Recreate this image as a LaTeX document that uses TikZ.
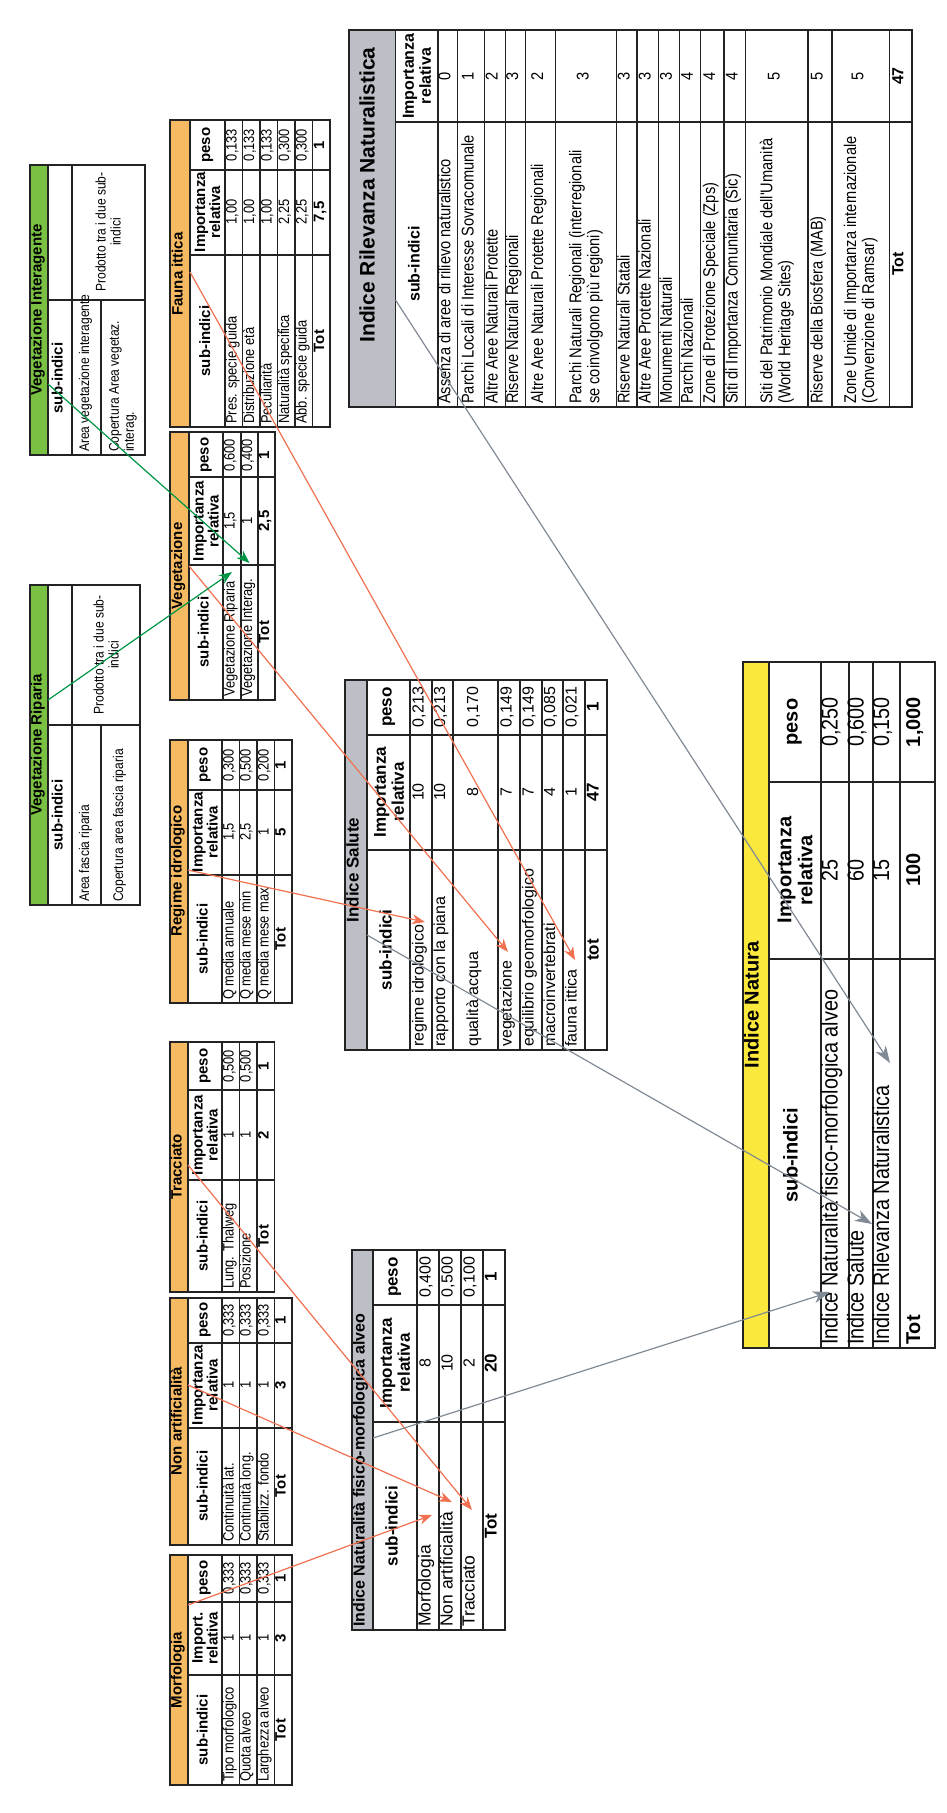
\documentclass[tikz,border=0pt]{standalone}
\usepackage{fontspec}
\setmainfont{Liberation Sans}
\newfontfamily\narrowfont[FakeStretch=0.86]{Liberation Sans}
\usetikzlibrary{arrows.meta}

\definecolor{hdrorange}{RGB}{246,186,98}
\definecolor{hdrgray}{RGB}{188,192,198}
\definecolor{hdryellow}{RGB}{250,232,60}
\definecolor{hdrgreen}{RGB}{122,193,67}
\definecolor{ink}{RGB}{35,35,35}
\definecolor{linkred}{RGB}{240,112,80}
\definecolor{linkgray}{RGB}{128,138,148}
\definecolor{linkgreen}{RGB}{0,150,70}

\newcounter{cellno}
\tikzset{
  inner/.style={ink, line width=1.1pt},
  outer/.style={ink, line width=1.8pt},
  lbl/.style={rotate=90, inner sep=0pt, anchor=mid, text=black},
  L/.style={anchor=mid west},
  f13/.style={font=\narrowfont\fontsize{15}{15}\selectfont},
  g13/.style={font=\narrowfont\fontsize{14}{15}\selectfont},
  b15/.style={font=\fontsize{15}{15}\selectfont\bfseries},
  f15/.style={font=\narrowfont\fontsize{17}{18}\selectfont},
  b16/.style={font=\fontsize{16}{17}\selectfont\bfseries},
  f16/.style={font=\fontsize{16}{18}\selectfont},
  b17/.style={font=\fontsize{17}{18}\selectfont\bfseries},
  f18/.style={font=\fontsize{17.5}{19}\selectfont},
  f20/.style={font=\narrowfont\fontsize{23}{24}\selectfont},
  b20/.style={font=\fontsize{20}{21}\selectfont\bfseries},
  b21/.style={font=\fontsize{21}{22}\selectfont\bfseries},
  redlink/.style={linkred, line width=1.2pt, -{Stealth[length=13pt,width=10pt,inset=4pt]}},
  graylink/.style={linkgray, line width=1.2pt, -{Stealth[length=17pt,width=12pt,inset=5pt]}},
  greenlink/.style={linkgreen, line width=1.2pt, -{Stealth[length=13pt,width=10pt,inset=4pt]}},
}

% header band, grid lines and frame of one table (portrait coordinates)
% #1 header left, #2 header right, #3 table right, #4 top, #5 bottom,
% #6 row lines, #7 column lines, #8 header colour
\newcommand\tablegrid[8]{%
  \fill[#8] (#1,#4) rectangle (#2,#5);
  \foreach \r in {#6}{\draw[inner] (\r,#4) -- (\r,#5);}
  \foreach \c in {#7}{\draw[inner] (#2,\c) -- (#3,\c);}
  \draw[outer] (#2,#4) -- (#2,#5);
  \draw[outer] (#1,#4) rectangle (#3,#5);
}
\newcommand\cell[3][]{\stepcounter{cellno}\node[lbl,#1] (c\arabic{cellno}) at (#2) {#3};}

\begin{document}
\begin{tikzpicture}[x=1pt,y=-1pt]
\useasboundingbox (0,0) rectangle (946,1813);

% ---------------- Morfologia
\tablegrid{170}{188}{292}{1555}{1785}{222,239.5,257,274.5}{1602,1675}{hdrorange}
\cell[b15]{179,1670}{Morfologia}
\cell[b15]{205,1730}{sub-indici}
\cell[b15,align=center,anchor=center]{205,1638}{Import.\\relativa}
\cell[b15]{205,1578}{peso}
\cell[f13,L]{231,1782}{Tipo morfologico}
\cell[f13,L]{248,1782}{Quota alveo}
\cell[f13,L]{266,1782}{Larghezza alveo}
\cell[b15]{283,1730}{Tot}
\cell[f13]{231,1638}{1}\cell[f13]{248,1638}{1}\cell[f13]{266,1638}{1}\cell[b15]{283,1638}{3}
\cell[f13]{231,1578}{0,333}\cell[f13]{248,1578}{0,333}\cell[f13]{266,1578}{0,333}\cell[b15]{283,1578}{1}

% ---------------- Non artificialita
\tablegrid{170}{188}{292}{1298}{1545}{222,239.5,257,274.5}{1343,1428}{hdrorange}
\cell[b15]{179,1421}{Non artificialità}
\cell[b15]{205,1486}{sub-indici}
\cell[b15,align=center,anchor=center]{205,1385}{Importanza\\relativa}
\cell[b15]{205,1320}{peso}
\cell[f13,L]{231,1542}{Continuità lat.}
\cell[f13,L]{248,1542}{Continuità long.}
\cell[f13,L]{266,1542}{Stabilizz. fondo}
\cell[b15]{283,1486}{Tot}
\cell[f13]{231,1385}{1}\cell[f13]{248,1385}{1}\cell[f13]{266,1385}{1}\cell[b15]{283,1385}{3}
\cell[f13]{231,1320}{0,333}\cell[f13]{248,1320}{0,333}\cell[f13]{266,1320}{0,333}\cell[b15]{283,1320}{1}

% ---------------- Tracciato
\tablegrid{170}{188}{274.5}{1042}{1292}{222,239.5,257}{1090,1180}{hdrorange}
\cell[b15]{179,1167}{Tracciato}
\cell[b15]{205,1236}{sub-indici}
\cell[b15,align=center,anchor=center]{205,1135}{Importanza\\relativa}
\cell[b15]{205,1066}{peso}
\cell[f13,L]{231,1289}{Lung. Thalweg}
\cell[f13,L]{248,1289}{Posizione}
\cell[b15]{266,1236}{Tot}
\cell[f13]{231,1135}{1}\cell[f13]{248,1135}{1}\cell[b15]{266,1135}{2}
\cell[f13]{231,1066}{0,500}\cell[f13]{248,1066}{0,500}\cell[b15]{266,1066}{1}

% ---------------- Regime idrologico
\tablegrid{170}{188}{292}{740}{1003}{222,239.5,257,274.5}{790,875}{hdrorange}
\cell[b15]{179,871}{Regime idrologico}
\cell[b15]{205,939}{sub-indici}
\cell[b15,align=center,anchor=center]{205,832}{Importanza\\relativa}
\cell[b15]{205,765}{peso}
\cell[f13,L]{231,1000}{Q media annuale}
\cell[f13,L]{248,1000}{Q media mese min}
\cell[f13,L]{266,1000}{Q media mese max}
\cell[b15]{283,939}{Tot}
\cell[f13]{231,832}{1,5}\cell[f13]{248,832}{2,5}\cell[f13]{266,832}{1}\cell[b15]{283,832}{5}
\cell[f13]{231,765}{0,300}\cell[f13]{248,765}{0,500}\cell[f13]{266,765}{0,200}\cell[b15]{283,765}{1}

% ---------------- Vegetazione
\tablegrid{170}{189}{275}{432}{700}{223,241,258}{477,565}{hdrorange}
\cell[b15]{179.5,566}{Vegetazione}
\cell[b15]{206,632}{sub-indici}
\cell[b15,align=center,anchor=center]{206,521}{Importanza\\relativa}
\cell[b15]{206,455}{peso}
\cell[f13,L]{232,697}{Vegetazione Riparia}
\cell[f13,L]{249.5,697}{Vegetazione Interag.}
\cell[b15]{266.5,632}{Tot}
\cell[f13]{232,521}{1,5}\cell[f13]{249.5,521}{1}\cell[b15]{266.5,521}{2,5}
\cell[f13]{232,455}{0,600}\cell[f13]{249.5,455}{0,400}\cell[b15]{266.5,455}{1}

% ---------------- Fauna ittica
\tablegrid{170}{190}{330}{120}{427}{225,242.5,260,277.5,295,312.5}{170,255}{hdrorange}
\cell[b15]{180,274}{Fauna ittica}
\cell[b15]{207.5,341}{sub-indici}
\cell[b15,align=center,anchor=center]{207.5,212}{Importanza\\relativa}
\cell[b15]{207.5,145}{peso}
\cell[f13,L]{234,424}{Pres. specie guida}
\cell[f13,L]{251.5,424}{Distribuzione età}
\cell[f13,L]{269,424}{Peculiarità}
\cell[f13,L]{286.5,424}{Naturalità specifica}
\cell[f13,L]{304,424}{Abb. specie guida}
\cell[b15]{321.5,341}{Tot}
\cell[f13]{234,212}{1,00}\cell[f13]{251.5,212}{1,00}\cell[f13]{269,212}{1,00}
\cell[f13]{286.5,212}{2,25}\cell[f13]{304,212}{2,25}\cell[b15]{321.5,212}{7,5}
\cell[f13]{234,145}{0,133}\cell[f13]{251.5,145}{0,133}\cell[f13]{269,145}{0,133}
\cell[f13]{286.5,145}{0,300}\cell[f13]{304,145}{0,300}\cell[b15]{321.5,145}{1}

% ---------------- Vegetazione Interagente
\fill[hdrgreen] (30,165) rectangle (48,455);
\draw[inner] (72,165) -- (72,455);
\draw[inner] (101,300) -- (101,455);
\draw[inner] (48,300) -- (145,300);
\draw[outer] (48,165) -- (48,455);
\draw[outer] (30,165) rectangle (145,455);
\cell[b15]{39,310}{Vegetazione Interagente}
\cell[b15]{60,378}{sub-indici}
\cell[g13,L]{86.5,452}{Area vegetazione interagente}
\cell[g13,L,align=left,anchor=west]{123,452}{Copertura Area vegetaz.\\interag.}
\cell[g13,align=center,anchor=center]{108,232}{Prodotto tra i due sub-\\indici}

% ---------------- Vegetazione Riparia
\fill[hdrgreen] (30,585) rectangle (48,905);
\draw[inner] (72,585) -- (72,905);
\draw[inner] (101,725) -- (101,905);
\draw[inner] (48,725) -- (140,725);
\draw[outer] (48,585) -- (48,905);
\draw[outer] (30,585) rectangle (140,905);
\cell[b15]{39,745}{Vegetazione Riparia}
\cell[b15]{60,815}{sub-indici}
\cell[g13,L]{86.5,902}{Area fascia riparia}
\cell[g13,L]{120.5,902}{Copertura area fascia riparia}
\cell[g13,align=center,anchor=center]{106,655}{Prodotto tra i due sub-\\indici}

% ---------------- Indice Naturalita fisico-morfologica alveo
\tablegrid{352}{373}{505}{1250}{1630}{417,439,461,483}{1305,1422}{hdrgray}
\cell[b16,L]{362,1627}{Indice Naturalità fisico-morfologica alveo}
\cell[b17]{395,1526}{sub-indici}
\cell[b17,align=center,anchor=center]{395,1363}{Importanza\\relativa}
\cell[b17]{395,1277}{peso}
\cell[f18,L]{428,1627}{Morfologia}
\cell[f18,L]{450,1627}{Non artificialità}
\cell[f18,L]{472,1627}{Tracciato}
\cell[b17]{494,1526}{Tot}
\cell[f16]{428,1363}{8}\cell[f16]{450,1363}{10}\cell[f16]{472,1363}{2}\cell[b17]{494,1363}{20}
\cell[f16]{428,1277}{0,400}\cell[f16]{450,1277}{0,500}\cell[f16]{472,1277}{0,100}\cell[b17]{494,1277}{1}

% ---------------- Indice Salute
\tablegrid{345}{367}{607}{680}{1050}{410,432,453,498,520,542,563,585}{735,850}{hdrgray}
\cell[b17]{356,870}{Indice Salute}
\cell[b17]{389,950}{sub-indici}
\cell[b17,align=center,anchor=center]{389,792}{Importanza\\relativa}
\cell[b17]{389,707}{peso}
\cell[f16,L]{421,1047}{regime idrologico}
\cell[f16,L]{442.5,1047}{rapporto con la piana}
\cell[f16,L]{475.5,1047}{qualità acqua}
\cell[f16,L]{509,1047}{vegetazione}
\cell[f16,L]{531,1047}{equilibrio geomorfologico}
\cell[f16,L]{552.5,1047}{macroinvertebrati}
\cell[f16,L]{574,1047}{fauna ittica}
\cell[b17]{596,950}{tot}
\cell[f16]{421,792}{10}\cell[f16]{442.5,792}{10}\cell[f16]{475.5,792}{8}\cell[f16]{509,792}{7}
\cell[f16]{531,792}{7}\cell[f16]{552.5,792}{4}\cell[f16]{574,792}{1}\cell[b17]{596,792}{47}
\cell[f16]{421,707}{0,213}\cell[f16]{442.5,707}{0,213}\cell[f16]{475.5,707}{0,170}\cell[f16]{509,707}{0,149}
\cell[f16]{531,707}{0,149}\cell[f16]{552.5,707}{0,085}\cell[f16]{574,707}{0,021}\cell[b17]{596,707}{1}

% ---------------- Indice Rilevanza Naturalistica
\tablegrid{349}{395.5}{912}{30}{407}{438,457.6,484.3,505.4,525.7,555.3,616.7,637,658.9,679.6,700.7,724,745.8,808,832,889.4}{122}{hdrgray}
\cell[b21]{372,195}{Indice Rilevanza Naturalistica}
\cell[b16]{417,264}{sub-indici}
\cell[b16,align=center,anchor=center]{417,76}{Importanza\\relativa}
\cell[f15,L]{447.8,404}{Assenza di aree di rilievo naturalistico}
\cell[f15,L]{471,404}{Parchi Locali di Interesse Sovracomunale}
\cell[f15,L]{494.9,404}{Altre Aree Naturali Protette}
\cell[f15,L]{515.6,404}{Riserve Naturali Regionali}
\cell[f15,L]{540.5,404}{Altre Aree Naturali Protette Regionali}
\cell[f15,align=left,anchor=west]{586,404}{Parchi Naturali Regionali (interregionali\\se coinvolgono più regioni)}
\cell[f15,L]{626.9,404}{Riserve Naturali Statali}
\cell[f15,L]{648,404}{Altre Aree Protette Nazionali}
\cell[f15,L]{669.3,404}{Monumenti Naturali}
\cell[f15,L]{690.2,404}{Parchi Nazionali}
\cell[f15,L]{712.4,404}{Zone di Protezione Speciale (Zps)}
\cell[f15,L]{734.9,404}{Siti di Importanza Comunitaria (Sic)}
\cell[f15,align=left,anchor=west]{776.9,404}{Siti del Patrimonio Mondiale dell'Umanità\\(World Heritage Sites)}
\cell[f15,L]{820,404}{Riserve della Biosfera (MAB)}
\cell[f15,align=left,anchor=west]{860.7,404}{Zone Umide di Importanza internazionale\\(Convenzione di Ramsar)}
\cell[b16]{900.7,264}{Tot}
\cell[f15]{447.8,76}{0}\cell[f15]{471,76}{1}\cell[f15]{494.9,76}{2}\cell[f15]{515.6,76}{3}
\cell[f15]{540.5,76}{2}\cell[f15]{586,76}{3}\cell[f15]{626.9,76}{3}\cell[f15]{648,76}{3}
\cell[f15]{669.3,76}{3}\cell[f15]{690.2,76}{4}\cell[f15]{712.4,76}{4}\cell[f15]{734.9,76}{4}
\cell[f15]{776.9,76}{5}\cell[f15]{820,76}{5}\cell[f15]{860.7,76}{5}\cell[b16]{900.7,76}{47}

% ---------------- Indice Natura
\tablegrid{743}{769}{935}{662}{1348}{821,849,873,900}{782,959}{hdryellow}
\cell[b20]{756,1005}{Indice Natura}
\cell[b20]{795,1155}{sub-indici}
\cell[b20,align=center,anchor=center]{795,870}{Importanza\\relativa}
\cell[b20]{795,722}{peso}
\cell[f20,L]{835,1345}{Indice Naturalità fisico-morfologica alveo}
\cell[f20,L]{861,1345}{Indice Salute}
\cell[f20,L]{886.5,1345}{Indice Rilevanza Naturalistica}
\cell[b20,L]{917.5,1345}{Tot}
\cell[f20]{835,870}{25}\cell[f20]{861,870}{60}\cell[f20]{886.5,870}{15}\cell[b20]{917.5,870}{100}
\cell[f20]{835,722}{0,250}\cell[f20]{861,722}{0,600}\cell[f20]{886.5,722}{0,150}\cell[b20]{917.5,722}{1,000}

% ---------------- link end points
\coordinate (morfOut) at (188,1605);   \coordinate (morfIn) at (432,1515);
\coordinate (nonartOut) at (188,1385); \coordinate (nonartIn) at (452,1502);
\coordinate (tracOut) at (188,1165);   \coordinate (tracIn) at (472,1510);
\coordinate (regOut) at (188,870);     \coordinate (regIn) at (425,922);
\coordinate (vegOut) at (189,566);     \coordinate (vegIn) at (508,952);
\coordinate (faunaOut) at (190,272);   \coordinate (faunaIn) at (575,960);
\coordinate (vintOut) at (48,384);     \coordinate (vintIn) at (249.5,563);
\coordinate (vripOut) at (48,700);     \coordinate (vripIn) at (232,572);
\coordinate (natOut) at (373,1438);    \coordinate (natIn) at (830,1292);
\coordinate (salOut) at (367,935);     \coordinate (salIn) at (872,1224);
\coordinate (rilOut) at (395.5,300);   \coordinate (rilIn) at (890,1063);

\draw[redlink] (morfOut) -- (morfIn);
\draw[redlink] (nonartOut) -- (nonartIn);
\draw[redlink] (tracOut) -- (tracIn);
\draw[redlink] (regOut) -- (regIn);
\draw[redlink] (vegOut) -- (vegIn);
\draw[redlink] (faunaOut) -- (faunaIn);
\draw[greenlink] (vintOut) -- (vintIn);
\draw[greenlink] (vripOut) -- (vripIn);
\draw[graylink] (natOut) -- (natIn);
\draw[graylink] (salOut) -- (salIn);
\draw[graylink] (rilOut) -- (rilIn);
\end{tikzpicture}
\end{document}
